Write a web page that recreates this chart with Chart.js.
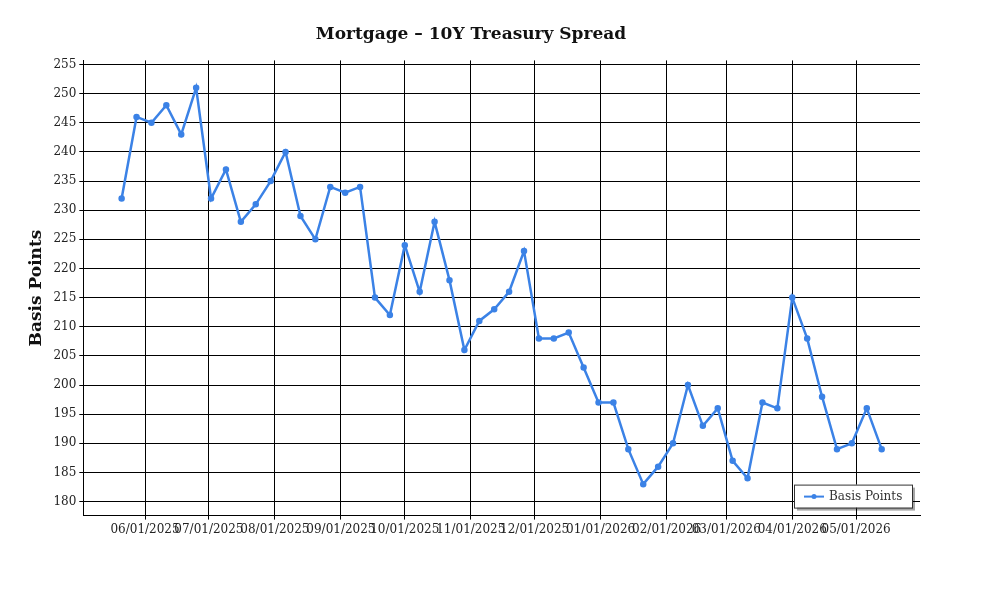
<!DOCTYPE html><html><head><style>body{margin:0;background:#fff}#w{width:1000px;height:600px}</style>
<script src="https://cdn.jsdelivr.net/npm/chart.js@4"></script></head><body><div id="w"><canvas id="c"></canvas></div>
<script>
const startDate = "2025-05-21";
const values = [232,246,245,248,243,251,232,237,228,231,235,240,229,225,234,233,234,215,212,224,216,228,218,206,211,213,216,223,208,208,209,203,197,197,189,183,186,190,200,193,196,187,184,197,196,215,208,198,189,190,196,189];
const monthTicks = ["2025-06-01","2025-07-01","2025-08-01","2025-09-01","2025-10-01","2025-11-01","2025-12-01","2026-01-01","2026-02-01","2026-03-01","2026-04-01","2026-05-01"];
const yTicks = [180,185,190,195,200,205,210,215,220,225,230,235,240,245,250,255];
const DAY=86400000;
const day = s => Math.round(Date.parse(s+"T00:00:00Z")/DAY);
const s0 = day(startDate);
const pts = values.map((v,i)=>({x:s0+7*i,y:v}));
const mt = monthTicks.map(day);
const lab = v => {const d=new Date(v*DAY);return String(d.getUTCMonth()+1).padStart(2,'0')+'/01/'+d.getUTCFullYear();};
const font={family:'"DejaVu Serif"',size:12};
const legendPlugin={id:'lg',afterDraw(ch){const c=ch.ctx,a=ch.chartArea;const w=118,h=23,x=a.right-126,y=a.bottom-31;
c.save();c.fillStyle='rgba(0,0,0,0.35)';c.fillRect(x+3,y+3,w,h);c.fillStyle='#fff';c.fillRect(x,y,w,h);c.strokeStyle='#333';c.lineWidth=1;c.strokeRect(x+.5,y+.5,w,h);
c.strokeStyle='#3b82e6';c.lineWidth=2;c.beginPath();c.moveTo(x+10,y+12);c.lineTo(x+30,y+12);c.stroke();c.fillStyle='#3b82e6';c.beginPath();c.arc(x+20,y+12,2.5,0,7);c.fill();
c.fillStyle='#333';c.font='12px "DejaVu Serif"';c.textBaseline='middle';c.fillText('Basis Points',x+35,y+12);c.restore();}};
new Chart(document.getElementById('c'),{type:'line',data:{datasets:[{label:'Basis Points',data:pts,borderColor:'#3b82e6',backgroundColor:'#3b82e6',borderWidth:2.5,pointRadius:2,tension:0}]},
options:{responsive:true,maintainAspectRatio:false,animation:false,layout:{padding:{left:22,right:80,bottom:60,top:14}},
plugins:{legend:{display:false},title:{display:true,text:'Mortgage – 10Y Treasury Spread',font:{family:'"DejaVu Serif"',size:17,weight:'bold'},color:'#111',padding:{top:10,bottom:16}},tooltip:{enabled:false}},
scales:{x:{type:'linear',min:day("2025-05-03"),max:day("2026-05-31"),afterBuildTicks:s=>{s.ticks=mt.map(v=>({value:v}));},ticks:{callback:v=>lab(v),font,color:'#222',maxRotation:0,autoSkip:false},grid:{color:'#000',drawTicks:true,tickLength:4},border:{color:'#000'}},
y:{min:177.6,max:255.7,afterBuildTicks:s=>{s.ticks=yTicks.map(v=>({value:v}));},ticks:{font,color:'#222'},grid:{color:'#000',tickLength:4},border:{color:'#000'},title:{display:true,text:'Basis Points',font:{family:'"DejaVu Serif"',size:17,weight:'bold'},color:'#111'}}}},plugins:[legendPlugin]});
</script></body></html>
